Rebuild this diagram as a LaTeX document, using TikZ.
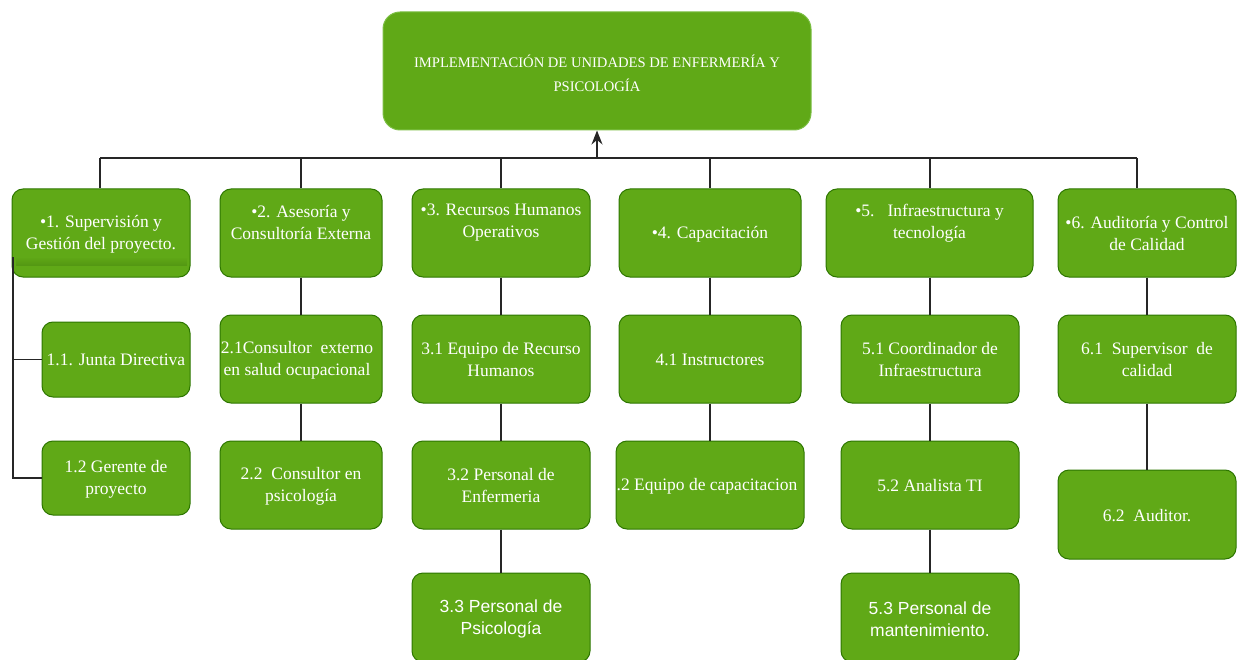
\documentclass[tikz,border=0pt]{standalone}
\usepackage{fontspec}
\setmainfont{Liberation Serif}
\newfontfamily\sansf{Liberation Sans}
\usetikzlibrary{arrows.meta,calc}
\definecolor{gfill}{HTML}{60A917}
\definecolor{gborder}{HTML}{2D7600}
\definecolor{gtopborder}{HTML}{7CBF45}
\definecolor{gshadow}{HTML}{3F7A0C}
\tikzset{
  box/.style={draw=gborder, fill=gfill, rounded corners=11pt, line width=1pt, inner sep=0pt},
  topbox/.style={box, draw=gtopborder, rounded corners=17pt},
  txt/.style={text=white, align=center, inner sep=0pt, font=\fontsize{17.5}{22}\selectfont},
  stxt/.style={txt, font=\sansf\fontsize{17.5}{22}\selectfont},
  conn/.style={draw=black!85, line width=1.3pt},
}
\begin{document}
\begin{tikzpicture}[x=1pt,y=-1pt]
\useasboundingbox (0,0) rectangle (1238,660);
% top
\node[topbox, minimum width=428pt, minimum height=118pt] (top) at (597,71) {};
\node[txt, font=\fontsize{14.6}{24}\selectfont] (topt) at (597,73) {IMPLEMENTACIÓN DE UNIDADES DE ENFERMERÍA Y\\PSICOLOGÍA};
% level 1
\node[box, minimum width=178pt, minimum height=88pt] (n1) at (101,233) {};
\shade[top color=gfill, bottom color=gshadow, opacity=0.35] (16,257) rectangle (187,265);
\node[txt] (n1t) at (101,234) {•1. Supervisión y\\Gestión del proyecto.};
\node[box, minimum width=162pt, minimum height=88pt] (n2) at (301,233) {};
\node[txt] (n2t) at (301,223) {•2. Asesoría y\\Consultoría Externa};
\node[box, minimum width=178pt, minimum height=88pt] (n3) at (501,233) {};
\node[txt] (n3t) at (501,223) {•3. Recursos Humanos\\Operativos};
\node[box, minimum width=182pt, minimum height=88pt] (n4) at (710,233) {};
\node[txt] (n4t) at (710,234) {•4. Capacitación};
\node[box, minimum width=207pt, minimum height=88pt] (n5) at (929.5,233) {};
\node[txt] (n5t) at (929.5,223) {•5.\ \ \ Infraestructura y\\tecnología};
\node[box, minimum width=178pt, minimum height=88pt] (n6) at (1147,233) {};
\node[txt] (n6t) at (1147,234) {•6. Auditoría y Control\\de Calidad};
% level 2 col 1
\node[box, minimum width=148pt, minimum height=75pt] (n11) at (116,359.5) {};
\node[txt] (n11t) at (116,360) {1.1. Junta Directiva};
\node[box, minimum width=148pt, minimum height=74pt] (n12) at (116,478) {};
\node[txt] (n12t) at (116,479) {1.2 Gerente de\\proyecto};
% col 2
\node[box, minimum width=162pt, minimum height=88pt] (n21) at (301,359) {};
\node[txt] (n21t) at (297,360) {2.1Consultor\ \ externo\\en salud ocupacional};
\node[box, minimum width=162pt, minimum height=88pt] (n22) at (301,485) {};
\node[txt] (n22t) at (301,486) {2.2\ \ Consultor en\\psicología};
% col 3
\node[box, minimum width=178pt, minimum height=88pt] (n31) at (501,359) {};
\node[txt] (n31t) at (501,360) {3.1 Equipo de Recurso\\Humanos};
\node[box, minimum width=178pt, minimum height=88pt] (n32) at (501,485) {};
\node[txt] (n32t) at (501,486) {3.2 Personal de\\Enfermeria};
\node[box, minimum width=178pt, minimum height=89pt] (n33) at (501,617.5) {};
\node[stxt] (n33t) at (501,619) {3.3 Personal de\\Psicología};
% col 4
\node[box, minimum width=182pt, minimum height=88pt] (n41) at (710,359) {};
\node[txt] (n41t) at (710,360) {4.1 Instructores};
\node[box, minimum width=188pt, minimum height=88pt] (n42) at (710,485) {};
\node[txt] (n42t) at (707,486) {.2 Equipo de capacitacion};
% col 5
\node[box, minimum width=178pt, minimum height=88pt] (n51) at (930,359) {};
\node[txt] (n51t) at (930,360) {5.1 Coordinador de\\Infraestructura};
\node[box, minimum width=178pt, minimum height=88pt] (n52) at (930,485) {};
\node[txt] (n52t) at (930,486) {5.2 Analista TI};
\node[box, minimum width=178pt, minimum height=89pt] (n53) at (930,617.5) {};
\node[stxt] (n53t) at (930,619) {5.3 Personal de\\mantenimiento.};
% col 6
\node[box, minimum width=178pt, minimum height=88pt] (n61) at (1147,359) {};
\node[txt] (n61t) at (1147,360) {6.1\ \ Supervisor\ \ de\\calidad};
\node[box, minimum width=178pt, minimum height=89pt] (n62) at (1147,514.5) {};
\node[txt] (n62t) at (1147,515.5) {6.2\ \ Auditor.};
% bar
\coordinate (b1) at (100,158);
\coordinate (b2) at (301,158);
\coordinate (b3) at (501,158);
\coordinate (b4) at (710,158);
\coordinate (b5) at (930,158);
\coordinate (b6) at (1137,158);
\coordinate (bm) at (597,158);
\draw[conn] (b1) -- (b6);
\draw[conn, -{Stealth[length=14pt,width=11pt]}] (bm) -- (top.south);
\draw[conn] (b1) -- (b1 |- n1.north);
\draw[conn] (b2) -- (b2 |- n2.north);
\draw[conn] (b3) -- (b3 |- n3.north);
\draw[conn] (b4) -- (b4 |- n4.north);
\draw[conn] (b5) -- (b5 |- n5.north);
\draw[conn] (b6) -- (b6 |- n6.north);
% column 1 spine
\coordinate (l1) at (13,257);
\draw[conn] (l1) |- (n12.west);
\draw[conn] (l1 |- n11.west) -- (n11.west);
% other columns
\draw[conn] (n2.south) -- (n21.north);
\draw[conn] (n21.south) -- (n22.north);
\draw[conn] (n3.south) -- (n31.north);
\draw[conn] (n31.south) -- (n32.north);
\draw[conn] (n32.south) -- (n33.north);
\draw[conn] (n4.south) -- (n41.north);
\draw[conn] (n41.south) -- (n42.north);
\draw[conn] (n5.south -| n51.north) -- (n51.north);
\draw[conn] (n51.south) -- (n52.north);
\draw[conn] (n52.south) -- (n53.north);
\draw[conn] (n6.south) -- (n61.north);
\draw[conn] (n61.south) -- (n62.north);
\end{tikzpicture}
\end{document}
